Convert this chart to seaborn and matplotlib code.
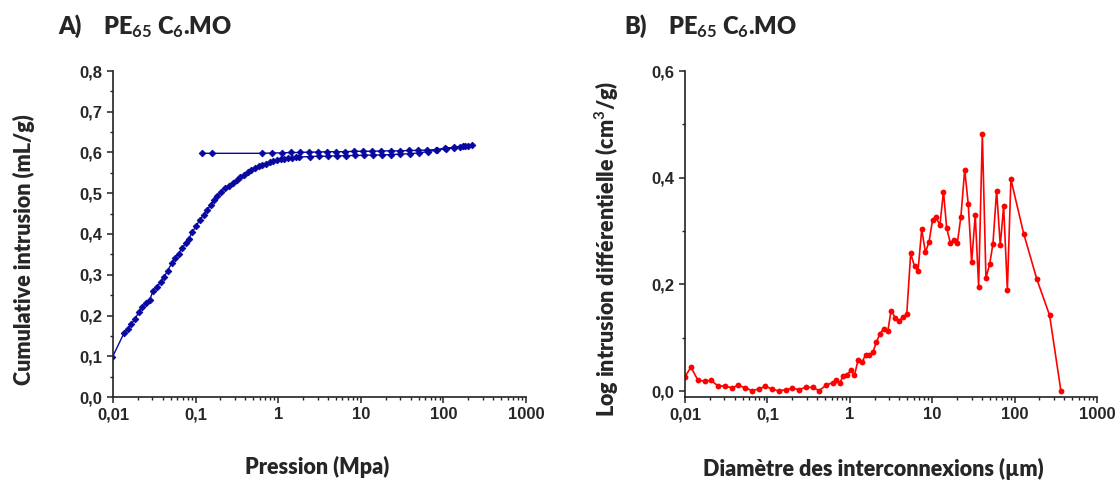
import numpy as np
import pandas as pd
import matplotlib
matplotlib.use('Agg')
import matplotlib.pyplot as plt
import matplotlib.ticker as mticker
import seaborn as sns

# panel A : mercury porosimetry, intrusion then extrusion (MPa, mL/g)
pression = [0.0098, 0.0136, 0.0151, 0.0167, 0.0185, 0.0205, 0.0227, 0.0251, 0.0279, 0.0305,
            0.0341, 0.0378, 0.0415, 0.0460, 0.0511, 0.0560, 0.0621, 0.0687, 0.0755, 0.0828,
            0.0916, 0.101, 0.112, 0.125, 0.138, 0.153, 0.167, 0.184, 0.204, 0.226,
            0.251, 0.280, 0.313, 0.346, 0.384, 0.426, 0.471, 0.522, 0.578, 0.640,
            0.710, 0.787, 0.873, 0.968, 1.07, 1.19, 1.32, 1.47, 1.63, 1.80,
            2.40, 3.09, 3.98, 5.13, 6.61, 8.51, 11.0, 14.1, 18.2, 23.4,
            30.2, 38.9, 50.1, 64.6, 83.2, 107, 135, 158, 182, 200, 221,
            174, 135, 105, 81.3, 63.1, 49.0, 38.0, 29.5, 22.9, 17.8,
            13.8, 10.7, 8.32, 6.46, 5.01, 3.89, 3.02, 2.34, 1.82, 1.41,
            1.10, 0.851, 0.645, 0.156, 0.121]
intrusion = [0.097, 0.157, 0.166, 0.180, 0.192, 0.208, 0.221, 0.231, 0.239, 0.260,
             0.270, 0.283, 0.295, 0.310, 0.328, 0.341, 0.352, 0.365, 0.377, 0.388,
             0.406, 0.419, 0.434, 0.447, 0.460, 0.471, 0.483, 0.493, 0.504, 0.514,
             0.519, 0.526, 0.532, 0.539, 0.545, 0.551, 0.557, 0.562, 0.567, 0.570,
             0.573, 0.576, 0.579, 0.581, 0.583, 0.585, 0.586, 0.587, 0.588, 0.589,
             0.590, 0.591, 0.591, 0.592, 0.592, 0.593, 0.593, 0.594, 0.594, 0.595,
             0.596, 0.597, 0.599, 0.602, 0.606, 0.609, 0.612, 0.614, 0.616, 0.617, 0.618,
             0.616, 0.613, 0.610, 0.607, 0.606, 0.605, 0.605, 0.604, 0.604, 0.604,
             0.603, 0.603, 0.603, 0.602, 0.602, 0.602, 0.601, 0.601, 0.600, 0.600,
             0.599, 0.599, 0.598, 0.598, 0.598]

# panel B : log differential intrusion vs pore throat diameter (um, cm3/g)
diametre = [0.0100, 0.0118, 0.0144, 0.0173, 0.0208, 0.0254, 0.0305, 0.0368, 0.0443, 0.0538,
            0.0649, 0.0782, 0.0940, 0.114, 0.138, 0.166, 0.200, 0.243, 0.293, 0.353,
            0.425, 0.514, 0.619, 0.682, 0.760, 0.826, 0.927, 1.03, 1.14, 1.26,
            1.40, 1.56, 1.72, 1.91, 2.10, 2.33, 2.58, 2.89, 3.17, 3.54,
            3.93, 4.40, 4.91, 5.48, 6.11, 6.73, 7.46, 8.28, 9.16, 10.1,
            11.1, 12.4, 13.7, 15.0, 16.6, 18.4, 20.2, 22.3, 24.8, 27.4,
            30.1, 33.3, 36.6, 40.6, 44.9, 49.8, 54.6, 60.5, 67.0, 73.6,
            81.7, 90.2, 129, 186, 266, 365]
log_diff = [0.027, 0.045, 0.020, 0.019, 0.020, 0.009, 0.010, 0.006, 0.011, 0.006,
            0.001, 0.004, 0.009, 0.004, 0.000, 0.003, 0.005, 0.003, 0.007, 0.007,
            0.001, 0.011, 0.016, 0.020, 0.016, 0.028, 0.031, 0.039, 0.030, 0.058,
            0.054, 0.068, 0.068, 0.073, 0.092, 0.108, 0.117, 0.112, 0.151, 0.138,
            0.131, 0.139, 0.144, 0.258, 0.234, 0.226, 0.303, 0.260, 0.280, 0.321,
            0.326, 0.311, 0.374, 0.305, 0.278, 0.283, 0.278, 0.327, 0.415, 0.350,
            0.242, 0.330, 0.196, 0.482, 0.212, 0.238, 0.276, 0.376, 0.273, 0.347,
            0.190, 0.397, 0.295, 0.210, 0.142, 0.000]

log_ticks = [0.01, 0.1, 1, 10, 100, 1000]
log_labels = ['0,01', '0,1', '1', '10', '100', '1000']
yticks_a = [0.0, 0.1, 0.2, 0.3, 0.4, 0.5, 0.6, 0.7, 0.8]
ylabels_a = ['0,0', '0,1', '0,2', '0,3', '0,4', '0,5', '0,6', '0,7', '0,8']
yticks_b = [0.0, 0.2, 0.4, 0.6]
ylabels_b = ['0,0', '0,2', '0,4', '0,6']

sns.set_style('ticks')
plt.rcParams['font.family'] = ['Lato', 'DejaVu Sans']
plt.rcParams['font.weight'] = 'bold'
plt.rcParams['mathtext.fontset'] = 'custom'
plt.rcParams['mathtext.rm'] = 'Lato:bold'
plt.rcParams['mathtext.bf'] = 'Lato:bold'
plt.rcParams['mathtext.default'] = 'bf'

df_a = pd.DataFrame({'P': pression, 'V': intrusion})
df_b = pd.DataFrame({'D': diametre, 'L': log_diff})

fig = plt.figure(figsize=(11.15, 4.86), dpi=100)
ax1 = fig.add_axes([113/1115, 89/486, 413/1115, 326/486])
ax2 = fig.add_axes([685/1115, 89/486, 412/1115, 326/486])

sns.lineplot(data=df_a, x='P', y='V', sort=False, estimator=None, ax=ax1,
             color='#0808A0', lw=1.0, marker='D', markersize=3.4, mec='#0808A0', mew=0.6)
sns.lineplot(data=df_b, x='D', y='L', sort=False, estimator=None, ax=ax2,
             color='#FF0000', lw=1.2, marker='o', markersize=4.2, mec='#FF0000', mew=0)

tick_font = dict(family='Liberation Sans', weight='bold', size=12)
for ax in (ax1, ax2):
    ax.set_xscale('log')
    ax.set_xlim(0.01, 1000)
    ax.set_xticks(log_ticks, log_labels)
    ax.xaxis.set_minor_locator(mticker.LogLocator(base=10, subs=np.arange(2, 10)))
    ax.xaxis.set_minor_formatter(mticker.NullFormatter())
    ax.tick_params(which='major', direction='out', length=4.5, width=1.1, color='#222222', pad=3)
    ax.tick_params(which='minor', direction='out', length=2.5, width=1.0, color='#222222')
    for sp in ['top', 'right']:
        ax.spines[sp].set_visible(False)
    for sp in ['left', 'bottom']:
        ax.spines[sp].set_linewidth(1.2)
        ax.spines[sp].set_color('#222222')

ax1.set_ylim(0, 0.8)
ax1.set_yticks(yticks_a, ylabels_a)
ax1.yaxis.set_minor_locator(mticker.MultipleLocator(0.05))
ax2.set_ylim(-0.011, 0.6)
ax2.set_yticks(yticks_b, ylabels_b)
ax2.yaxis.set_minor_locator(mticker.MultipleLocator(0.1))

for ax in (ax1, ax2):
    for lab in ax.get_xticklabels() + ax.get_yticklabels():
        lab.set_fontproperties(tick_font)

lab_size = 15.5
ax1.set_xlabel('Pression (Mpa)', fontsize=lab_size, fontweight='heavy')
ax1.set_ylabel('Cumulative intrusion (mL/g)', fontsize=lab_size, fontweight='heavy')
ax2.set_xlabel('Diamètre des interconnexions (µm)', fontsize=lab_size, fontweight='heavy')
ax2.set_ylabel('Log intrusion différentielle (cm$^{3}$/g)', fontsize=lab_size, fontweight='heavy')

ax1.xaxis.set_label_coords(0.494, -0.215)
ax2.xaxis.set_label_coords(0.456, -0.222)
ax1.yaxis.set_label_coords(-0.215, 0.451)
ax2.yaxis.set_label_coords(-0.189, 0.454)
for lab in (ax1.xaxis.label, ax2.xaxis.label, ax1.yaxis.label, ax2.yaxis.label):
    lab.set_va('center')

title_kw = dict(fontsize=17, fontweight='heavy', va='baseline')
fig.text(58/1115, 0.930, 'A)', **title_kw)
fig.text(103/1115, 0.930, 'PE$_{65}$ C$_{6}$.MO', **title_kw)
fig.text(624/1115, 0.930, 'B)', **title_kw)
fig.text(668/1115, 0.930, 'PE$_{65}$ C$_{6}$.MO', **title_kw)

fig.savefig('out.png', dpi=100, facecolor='white')
